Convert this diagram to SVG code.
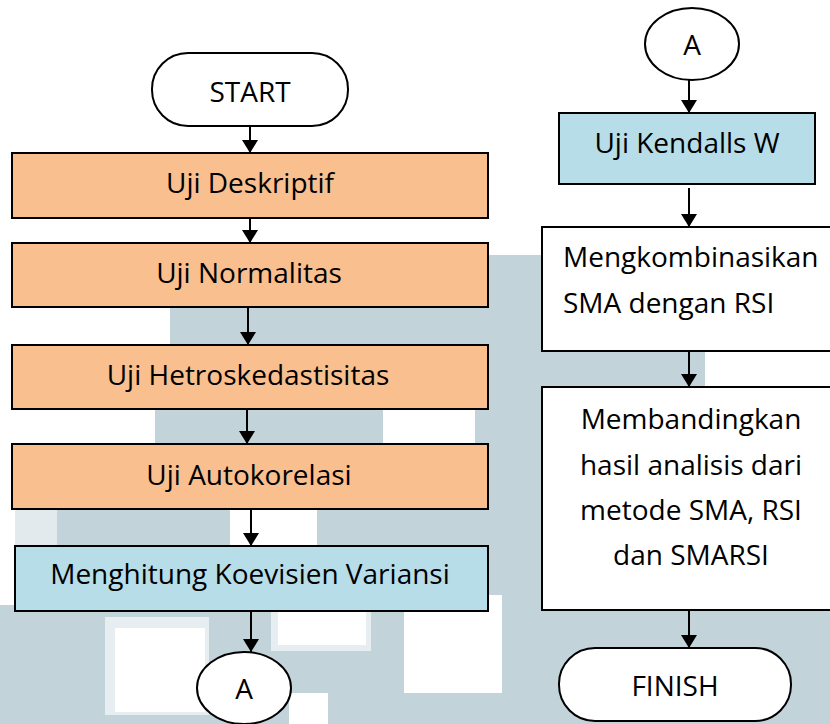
<svg xmlns="http://www.w3.org/2000/svg" width="830" height="724" viewBox="0 0 830 724">
<defs>
<style>
.bg{fill:#c2d3da}
.wh{fill:#ffffff}
.box{stroke:#000;stroke-width:2}
.or{fill:#f9bf8f}
.bl{fill:#b7dde8}
.w{fill:#ffffff}
.t{font-family:"Open Sans","DejaVu Sans",sans-serif;font-size:28px;fill:#000}
.c{text-anchor:middle}
.ln{stroke:#000;stroke-width:2;fill:none;marker-end:url(#ah)}
</style>
<marker id="ah" markerUnits="userSpaceOnUse" viewBox="0 0 13 16" markerWidth="13" markerHeight="16" refX="13" refY="8" orient="auto">
<path d="M0,0 L13,8 L0,16 z" fill="#000"/>
</marker>
</defs>
<g id="background">
<rect x="0" y="0" width="830" height="724" fill="#ffffff"/>
<rect class="bg" x="170" y="300" width="372" height="424"/>
<rect class="bg" x="155" y="400" width="100" height="324"/>
<rect class="bg" x="488" y="255" width="54" height="469"/>
<rect class="bg" x="57" y="509" width="120" height="215"/>
<rect class="bg" x="0" y="605" width="70" height="119"/>
<rect class="bg" x="542" y="351" width="163" height="36"/>
<rect class="bg" x="542" y="605" width="288" height="119"/>
<rect x="15" y="509" width="42" height="96" fill="#e2eaee"/>
<rect class="wh" x="383" y="409" width="92" height="35"/>
<rect class="wh" x="230" y="509" width="87" height="37"/>
<rect x="105" y="617" width="104" height="98" fill="#e6eef1"/>
<rect class="wh" x="115" y="628" width="90" height="84"/>
<rect x="271" y="607" width="100" height="44" fill="#e6eef1"/>
<rect class="wh" x="278" y="607" width="88" height="38"/>
<rect class="wh" x="404" y="595" width="98" height="98"/>
<rect class="wh" x="289" y="693" width="39" height="31"/>
</g>
<g id="connectors">
<line class="ln" x1="250" y1="126" x2="250" y2="153"/>
<line class="ln" x1="250" y1="212" x2="250" y2="243"/>
<line class="ln" x1="248" y1="307" x2="248" y2="345"/>
<line class="ln" x1="247" y1="409" x2="247" y2="444"/>
<line class="ln" x1="251" y1="509" x2="251" y2="546"/>
<line class="ln" x1="251" y1="611" x2="251" y2="652"/>
<line class="ln" x1="689" y1="80" x2="689" y2="113"/>
<line class="ln" x1="689" y1="188" x2="689" y2="227"/>
<line class="ln" x1="689" y1="351" x2="689" y2="387"/>
<line class="ln" x1="689" y1="610" x2="689" y2="648"/>
</g>
<g id="start">
<rect class="box w" x="152" y="53" width="196" height="73" rx="36" ry="36"/>
<text class="t c" x="250" y="102">START</text>
</g>
<g id="deskriptif">
<rect class="box or" x="12" y="153" width="476" height="65"/>
<text class="t c" x="250" y="193">Uji Deskriptif</text>
</g>
<g id="normalitas">
<rect class="box or" x="12" y="243" width="476" height="64"/>
<text class="t c" x="249" y="283">Uji Normalitas</text>
</g>
<g id="hetroskedastisitas">
<rect class="box or" x="12" y="345" width="476" height="64"/>
<text class="t c" x="248" y="385">Uji Hetroskedastisitas</text>
</g>
<g id="autokorelasi">
<rect class="box or" x="12" y="444" width="476" height="65"/>
<text class="t c" x="249" y="485">Uji Autokorelasi</text>
</g>
<g id="koevisien">
<rect class="box bl" x="15" y="546" width="473" height="65"/>
<text class="t c" x="250" y="584">Menghitung Koevisien Variansi</text>
</g>
<g id="connector-a-out">
<ellipse class="box w" cx="244" cy="688" rx="47" ry="36"/>
<text class="t c" x="244" y="699">A</text>
</g>
<g id="connector-a-in">
<ellipse class="box w" cx="692" cy="44" rx="47" ry="36"/>
<text class="t c" x="692" y="55">A</text>
</g>
<g id="kendalls">
<rect class="box bl" x="559" y="113" width="256" height="71"/>
<text class="t c" x="687" y="153">Uji Kendalls W</text>
</g>
<g id="kombinasi">
<rect class="box w" x="542" y="227" width="300" height="124"/>
<text class="t" x="563" y="267">Mengkombinasikan</text>
<text class="t" x="563" y="313">SMA dengan RSI</text>
</g>
<g id="membandingkan">
<rect class="box w" x="542" y="387" width="300" height="223"/>
<text class="t c" x="691" y="429">Membandingkan</text>
<text class="t c" x="691" y="475">hasil analisis dari</text>
<text class="t c" x="691" y="520">metode SMA, RSI</text>
<text class="t c" x="691" y="565">dan SMARSI</text>
</g>
<g id="finish">
<rect class="box w" x="559" y="648" width="232" height="73" rx="36" ry="36"/>
<text class="t c" x="675" y="696">FINISH</text>
</g>
</svg>
